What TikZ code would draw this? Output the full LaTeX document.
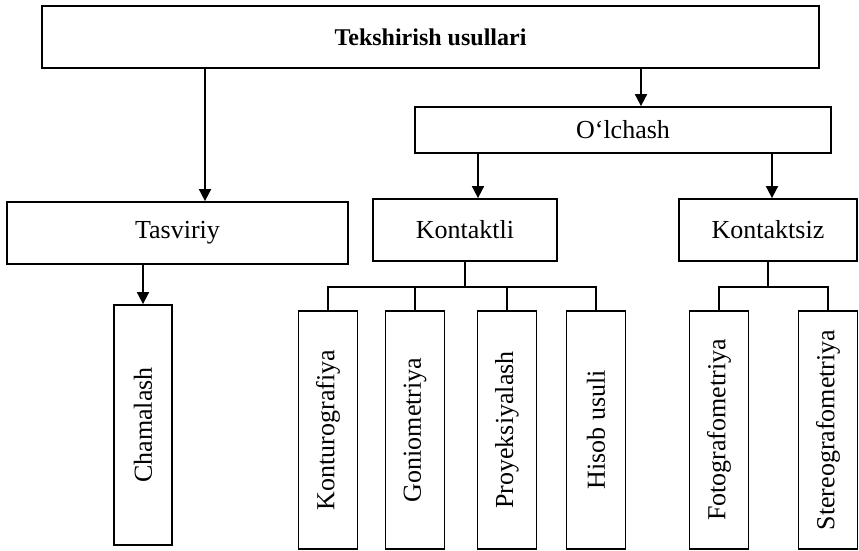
\documentclass[tikz,border=0pt]{standalone}
\usepackage{fontspec}
\setmainfont{Liberation Serif}
\usepackage{graphicx}
\usetikzlibrary{arrows.meta}
\tikzset{
  levelbox/.style={draw,line width=0.9pt,inner sep=0pt,
    font=\fontsize{13}{15}\selectfont},
  rootbox/.style={levelbox,font=\fontsize{12}{14}\selectfont\bfseries},
  leafbox/.style={levelbox,minimum width=29.5pt,minimum height=119pt},
  flow/.style={-{Triangle[length=6pt,width=6pt]},line width=0.9pt},
  branch/.style={line width=0.9pt}
}
\newcommand{\upright}[1]{\rotatebox{90}{#1}}

\begin{document}
\begin{tikzpicture}[x=0.5pt,y=-0.5pt]
  \useasboundingbox (0,0) rectangle (859,551);
  \node[rootbox,minimum width=388.5pt,minimum height=31pt] (root)
    at (430.5,37) {Tekshirish usullari};
  \node[levelbox,minimum width=208pt,minimum height=23pt] (olchash)
    at (623,130) {O‘lchash};
  \node[levelbox,minimum width=170.5pt,minimum height=31pt] (tasviriy)
    at (177.5,233) {Tasviriy};
  \node[levelbox,minimum width=92pt,minimum height=31pt] (kontaktli)
    at (465,230) {Kontaktli};
  \node[levelbox,minimum width=89pt,minimum height=31pt] (kontaktsiz)
    at (768,230) {Kontaktsiz};
  \node[leafbox,minimum width=29pt,minimum height=120pt] (chamalash)
    at (143,425) {\upright{Chamalash}};
  \node[leafbox] (kontur) at (328,430) {\upright{Konturografiya}};
  \node[leafbox] (gonio) at (415,430) {\upright{Goniometriya}};
  \node[leafbox] (proyek) at (507,430) {\upright{Proyeksiyalash}};
  \node[leafbox] (hisob) at (596,430) {\upright{Hisob usuli}};
  \node[leafbox] (foto) at (719,430) {\upright{Fotografometriya}};
  \node[leafbox] (stereo) at (828,430) {\upright{Stereografometriya}};
  \draw[flow] ([xshift=13.75pt]tasviriy.north |- root.south)
    -- ([xshift=13.75pt]tasviriy.north);
  \draw[flow] ([xshift=9pt]olchash.north |- root.south)
    -- ([xshift=9pt]olchash.north);
  \draw[flow] ([xshift=6.5pt]kontaktli.north |- olchash.south)
    -- ([xshift=6.5pt]kontaktli.north);
  \draw[flow] ([xshift=2pt]kontaktsiz.north |- olchash.south)
    -- ([xshift=2pt]kontaktsiz.north);
  \draw[flow] (chamalash.north |- tasviriy.south) -- (chamalash.north);
  \draw[branch] (kontur.north) -- ++(0,-23) coordinate (kbus) -| (hisob.north);
  \draw[branch] (kontaktli.south) -- (kontaktli.south |- kbus);
  \foreach \leaf in {gonio,proyek}
    \draw[branch] (\leaf.north) -- (\leaf.north |- kbus);
  \draw[branch] (foto.north) -- ++(0,-23) coordinate (sbus) -| (stereo.north);
  \draw[branch] (kontaktsiz.south) -- (kontaktsiz.south |- sbus);
\end{tikzpicture}
\end{document}
